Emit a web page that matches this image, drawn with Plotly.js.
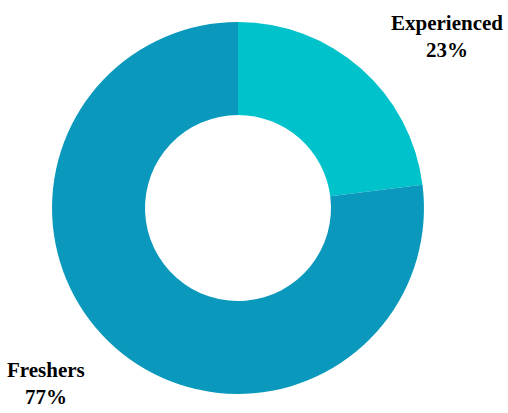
<!DOCTYPE html>
<html>
<head>
<meta charset="utf-8">
<script src="https://cdn.plot.ly/plotly-3.0.1.min.js"></script>
<style>html,body{margin:0;padding:0;background:#fff;}#chart{width:508px;height:413px;}</style>
</head>
<body>
<div id="chart"></div>
<script>
const categories = ["Experienced", "Freshers"];
const shares = [23, 77];
const colors = ["#00C2CB", "#0A99BC"];

const total = shares.reduce((a, b) => a + b, 0);
const labelPos = [
  {x: 0.879, y: 0.978},
  {x: 0.091, y: 0.138}
];

const trace = {
  type: "pie",
  labels: categories,
  values: shares,
  hole: 0.5,
  sort: false,
  direction: "clockwise",
  rotation: 0,
  marker: {colors: colors, line: {width: 0}},
  textinfo: "none",
  domain: {x: [0.1024, 0.8346], y: [0.046, 0.9467]},
  showlegend: false,
  hoverinfo: "none"
};

const serif = "Liberation Serif, Times New Roman, serif";
const annotations = categories.map((c, i) => ({
  xref: "paper", yref: "paper",
  x: labelPos[i].x, y: labelPos[i].y,
  xanchor: "center", yanchor: "top",
  showarrow: false,
  align: "center",
  text: "<b>" + c + "</b><br><b>" + Math.round(shares[i] / total * 100) + "%</b>",
  font: {family: serif, size: 21, color: "#000"}
}));

Plotly.newPlot("chart", [trace], {
  width: 508, height: 413,
  margin: {l: 0, r: 0, t: 0, b: 0},
  font: {family: serif, size: 21, color: "#000"},
  paper_bgcolor: "#fff",
  showlegend: false,
  annotations: annotations
}, {displayModeBar: false, staticPlot: true});
</script>
</body>
</html>
